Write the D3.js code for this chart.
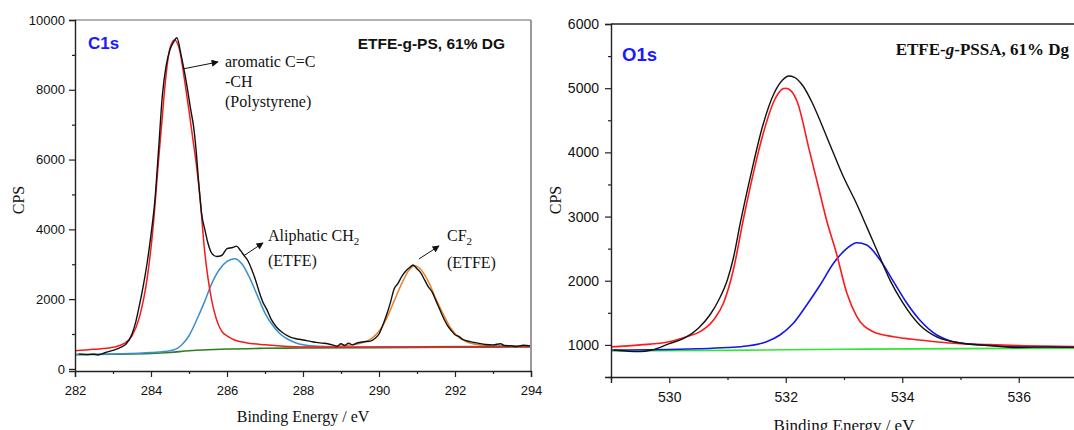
<!DOCTYPE html>
<html><head><meta charset="utf-8">
<script src="https://cdn.jsdelivr.net/npm/d3@7"></script>
<style>
html,body{margin:0;padding:0;background:#fff;}
svg{display:block;}
.sans{font-family:"Liberation Sans",Arial,Helvetica,sans-serif;}
.serif{font-family:"Liberation Serif","Times New Roman",Times,serif;}
</style>
</head><body>
<svg id="chart" width="1074" height="430"></svg>
<script>
// ---------- Data: C1s panel ----------
const c1sXTicks = [282, 284, 286, 288, 290, 292, 294];
const c1sXMinor = [283, 285, 287, 289, 291, 293];
const c1sYTicks = [0, 2000, 4000, 6000, 8000, 10000];
const c1sYMinor = [1000, 3000, 5000, 7000, 9000];
const c1sMeasured = [[282.1,430],[282.3,410],[282.5,420],[282.6,400],[282.8,470],[283.0,530],[283.2,620],[283.35,720],[283.5,1000],[283.6,1350],[283.7,1850],[283.8,2400],[283.9,3050],[284.0,3850],[284.1,4800],[284.2,6300],[284.3,7850],[284.4,8700],[284.5,9150],[284.6,9380],[284.68,9490],[284.8,8950],[284.94,8150],[285.05,7400],[285.12,6950],[285.18,6350],[285.25,5410],[285.33,4460],[285.42,3980],[285.5,3600],[285.6,3310],[285.73,3220],[285.86,3250],[286.0,3450],[286.15,3480],[286.25,3520],[286.35,3400],[286.45,3250],[286.55,3100],[286.65,2850],[286.75,2550],[286.85,2200],[286.95,1900],[287.05,1700],[287.15,1450],[287.3,1200],[287.45,1050],[287.6,950],[287.75,880],[287.9,850],[288.05,820],[288.2,790],[288.35,760],[288.5,740],[288.65,720],[288.8,680],[288.9,650],[289.0,720],[289.1,670],[289.2,740],[289.3,690],[289.45,750],[289.6,780],[289.75,790],[289.9,880],[290.0,1000],[290.1,1250],[290.2,1550],[290.3,1900],[290.4,2300],[290.5,2450],[290.6,2650],[290.7,2800],[290.8,2900],[290.9,2980],[291.0,2870],[291.1,2750],[291.2,2550],[291.3,2350],[291.4,2200],[291.5,1950],[291.6,1700],[291.7,1450],[291.8,1250],[291.9,1100],[292.0,980],[292.1,930],[292.2,850],[292.4,780],[292.6,740],[292.8,700],[293.0,690],[293.2,720],[293.3,670],[293.5,660],[293.6,640],[293.8,680],[294.0,660]];
const c1sAromatic = [[282.0,520],[282.5,560],[283.0,620],[283.3,730],[283.5,950],[283.7,1500],[283.9,2600],[284.05,4000],[284.2,6000],[284.28,7000],[284.37,8140],[284.5,9200],[284.62,9430],[284.75,9150],[284.9,8150],[285.0,7400],[285.1,6600],[285.2,5800],[285.3,4800],[285.4,3500],[285.5,2600],[285.6,1950],[285.7,1500],[285.8,1200],[285.9,1030],[286.0,950],[286.2,830],[286.5,750],[287.0,690],[287.5,650],[288.0,630],[289.0,620],[290.0,625],[291.0,630],[292.0,635],[293.0,640],[294.0,645]];
const c1sAliphatic = [[282.0,410],[283.0,430],[284.0,470],[284.5,520],[284.8,680],[285.0,950],[285.2,1400],[285.4,1900],[285.6,2450],[285.8,2850],[286.0,3080],[286.2,3160],[286.4,3000],[286.6,2600],[286.8,2100],[287.0,1600],[287.2,1250],[287.4,1000],[287.6,850],[287.8,750],[288.0,690],[288.5,640],[289.0,625],[290.0,630],[292.0,640],[294.0,650]];
const c1sCF2 = [[288.0,630],[288.5,640],[289.0,660],[289.3,690],[289.6,760],[289.8,870],[290.0,1080],[290.2,1450],[290.4,1950],[290.6,2450],[290.8,2850],[290.95,2950],[291.1,2850],[291.3,2500],[291.5,2000],[291.7,1550],[291.9,1150],[292.1,900],[292.3,780],[292.6,700],[293.0,665],[293.5,655],[294.0,650]];
const c1sBackground = [[282.0,410],[283.0,420],[284.0,440],[284.5,470],[285.0,520],[285.5,550],[286.0,570],[287.0,590],[288.0,600],[290.0,610],[292.0,620],[294.0,630]];

// ---------- Data: O1s panel ----------
const o1sXTicks = [530, 532, 534, 536];
const o1sXMinor = [529, 531, 533, 535, 537];
const o1sYTicks = [1000, 2000, 3000, 4000, 5000, 6000];
const o1sYMinor = [500, 1500, 2500, 3500, 4500, 5500];
const o1sMeasured = [[529.05,920],[529.3,900],[529.5,895],[529.7,920],[530.0,1020],[530.25,1100],[530.5,1260],[530.7,1470],[530.85,1700],[531.0,2020],[531.1,2350],[531.22,2900],[531.4,3650],[531.6,4400],[531.8,4920],[531.95,5130],[532.05,5190],[532.15,5170],[532.3,5030],[532.45,4780],[532.6,4470],[532.8,4030],[533.0,3600],[533.2,3230],[533.4,2820],[533.6,2400],[533.8,1990],[534.0,1670],[534.3,1310],[534.6,1120],[535.0,1030],[535.5,990],[536.0,960],[536.5,970],[537.0,965]];
const o1sPeak1 = [[529.0,970],[529.5,1000],[530.0,1050],[530.3,1128],[530.53,1206],[530.76,1388],[530.93,1648],[531.1,2167],[531.27,2946],[531.45,3700],[531.6,4250],[531.8,4800],[531.95,4990],[532.0,5000],[532.1,4950],[532.2,4780],[532.4,4050],[532.55,3500],[532.7,2946],[532.87,2427],[533.05,1804],[533.22,1440],[533.5,1206],[533.85,1128],[534.3,1077],[534.8,1030],[535.5,1005],[536.0,990],[537.0,975]];
const o1sPeak2 = [[529.0,920],[530.0,928],[530.5,940],[531.0,960],[531.33,983],[531.67,1050],[531.9,1154],[532.13,1337],[532.36,1622],[532.59,1933],[532.82,2271],[533.05,2505],[533.22,2592],[533.39,2557],[533.62,2323],[533.85,1985],[534.08,1648],[534.3,1388],[534.6,1150],[534.8,1070],[535.0,1030],[535.5,990],[536.0,975],[537.0,965]];
const o1sBackground = [[529.0,905],[531.0,915],[533.0,932],[535.0,942],[537.0,950]];

// ---------- Drawing ----------
const svg = d3.select("#chart");
const defs = svg.append("defs");
defs.append("marker").attr("id","arrow").attr("viewBox","0 0 10 10")
  .attr("refX",9).attr("refY",5).attr("markerWidth",9).attr("markerHeight",7)
  .attr("markerUnits","userSpaceOnUse").attr("orient","auto")
  .append("path").attr("d","M0,0 L10,5 L0,10 z").attr("fill","#111");

function drawAxes(g, x, y, o) {
  const [x0, x1] = x.range(), [yb, yt] = y.range();
  g.append("line").attr("x1",x0).attr("x2",x1).attr("y1",yt).attr("y2",yt)
    .attr("stroke",o.frameColor).attr("stroke-width",o.frameWidth);
  if (o.rightFrame) g.append("line").attr("x1",x1).attr("x2",x1).attr("y1",yt).attr("y2",yb)
    .attr("stroke",o.frameColor).attr("stroke-width",2);
  const xa = g.append("g").attr("transform",`translate(0,${yb})`)
    .call(d3.axisBottom(x).tickValues(o.xTicks).tickSize(o.tick).tickPadding(o.xPad).tickFormat(d3.format("d")));
  g.append("g").attr("transform",`translate(0,${yb})`)
    .call(d3.axisBottom(x).tickValues(o.xMinor).tickSize(3).tickFormat(""))
    .select(".domain").remove();
  const ya = g.append("g").attr("transform",`translate(${x0},0)`)
    .call(d3.axisLeft(y).tickValues(o.yTicks).tickSize(o.tick).tickPadding(o.yPad).tickFormat(d3.format("d")));
  g.append("g").attr("transform",`translate(${x0},0)`)
    .call(d3.axisLeft(y).tickValues(o.yMinor).tickSize(3).tickFormat(""))
    .select(".domain").remove();
  [xa, ya].forEach(a => {
    a.select(".domain").attr("stroke","#222").attr("stroke-width",1.4);
    a.selectAll(".tick text").attr("class","sans").attr("font-size",o.tickFont).attr("fill","#111");
  });
  g.selectAll(".tick line").attr("stroke","#222").attr("stroke-width",1.2);
}

function drawLine(g, x, y, data, color, w) {
  g.append("path").datum(data)
    .attr("d", d3.line().x(d => x(d[0])).y(d => y(d[1])).curve(d3.curveMonotoneX))
    .attr("fill","none").attr("stroke",color).attr("stroke-width",w).attr("stroke-linejoin","round");
}

// ----- Left panel: C1s -----
const xL = d3.scaleLinear().domain([282, 294]).range([75, 531]);
const yL = d3.scaleLinear().domain([-60, 10000]).range([371, 20]);
const gL = svg.append("g");
drawLine(gL, xL, yL, c1sBackground, "#2e7d1f", 1.6);
drawLine(gL, xL, yL, c1sCF2, "#e8832c", 1.5);
drawLine(gL, xL, yL, c1sAliphatic, "#3a8fcc", 1.5);
drawLine(gL, xL, yL, c1sAromatic, "#f21c1c", 1.5);
drawLine(gL, xL, yL, c1sMeasured, "#111", 1.4);
drawAxes(gL, xL, yL, {xTicks:c1sXTicks, xMinor:c1sXMinor, yTicks:c1sYTicks, yMinor:c1sYMinor,
  tick:6, xPad:9, yPad:4, tickFont:13, frameColor:"#999", frameWidth:1.5, rightFrame:true});

gL.append("text").attr("class","sans").attr("x",88).attr("y",49).attr("font-size",17)
  .attr("font-weight","bold").attr("fill","#1a1aff").text("C1s");
gL.append("text").attr("class","sans").attr("x",505).attr("y",49).attr("font-size",15.5)
  .attr("font-weight","bold").attr("text-anchor","end").attr("fill","#111").text("ETFE-g-PS, 61% DG");

const ann = (g, x, y, lines) => {
  const t = g.append("text").attr("class","serif").attr("font-size",16).attr("fill","#111");
  lines.forEach((l, i) => {
    const ts = t.append("tspan").attr("x", x).attr("y", y + i*20);
    if (Array.isArray(l)) {
      ts.text(l[0]);
      t.append("tspan").attr("font-size",11).attr("dy",4).text(l[1]);
    } else ts.text(l);
  });
};
ann(gL, 225, 67, ["aromatic C=C", "-CH", "(Polystyrene)"]);
ann(gL, 268, 241, [["Aliphatic CH", "2"]]);
ann(gL, 268, 266, ["(ETFE)"]);
ann(gL, 447, 241, [["CF", "2"]]);
ann(gL, 447, 268, ["(ETFE)"]);
const arrow = (g, x1, y1, x2, y2) => g.append("line").attr("x1",x1).attr("y1",y1).attr("x2",x2).attr("y2",y2)
  .attr("stroke","#111").attr("stroke-width",1).attr("marker-end","url(#arrow)");
arrow(gL, xL(284.85), yL(8600), 218, 62);
arrow(gL, xL(286.45), yL(3250), 263, 243);
arrow(gL, xL(291.05), yL(3150), 439, 246);

gL.append("text").attr("class","serif").attr("font-size",16).attr("fill","#111")
  .attr("transform","translate(24,200) rotate(-90)").attr("text-anchor","middle").text("CPS");
gL.append("text").attr("class","serif").attr("font-size",16).attr("fill","#111")
  .attr("x",303).attr("y",422).attr("text-anchor","middle").text("Binding Energy / eV");

// ----- Right panel: O1s -----
const xR = d3.scaleLinear().domain([529, 537]).range([611, 1077]);
const yR = d3.scaleLinear().domain([500, 6000]).range([377, 24]);
const gR = svg.append("g");
drawLine(gR, xR, yR, o1sBackground, "#2de82d", 1.6);
drawLine(gR, xR, yR, o1sPeak2, "#1414ee", 1.6);
drawLine(gR, xR, yR, o1sPeak1, "#ff1a1a", 1.6);
drawLine(gR, xR, yR, o1sMeasured, "#111", 1.4);
drawAxes(gR, xR, yR, {xTicks:o1sXTicks, xMinor:o1sXMinor, yTicks:o1sYTicks, yMinor:o1sYMinor,
  tick:6, xPad:9, yPad:6, tickFont:14, frameColor:"#222", frameWidth:1.4, rightFrame:false});

gR.append("text").attr("class","sans").attr("x",622).attr("y",61).attr("font-size",18.5)
  .attr("font-weight","bold").attr("fill","#1a1aff").text("O1s");
const tR = gR.append("text").attr("class","serif").attr("x",1069).attr("y",55).attr("font-size",17)
  .attr("font-weight","bold").attr("text-anchor","end").attr("fill","#111");
tR.append("tspan").text("ETFE-");
tR.append("tspan").attr("font-style","italic").text("g");
tR.append("tspan").text("-PSSA, 61% Dg");

gR.append("text").attr("class","serif").attr("font-size",16).attr("fill","#111")
  .attr("transform","translate(561,200) rotate(-90)").attr("text-anchor","middle").text("CPS");
gR.append("text").attr("class","serif").attr("font-size",17).attr("fill","#111")
  .attr("x",844).attr("y",431).attr("text-anchor","middle").text("Binding Energy / eV");
</script>
</body></html>
